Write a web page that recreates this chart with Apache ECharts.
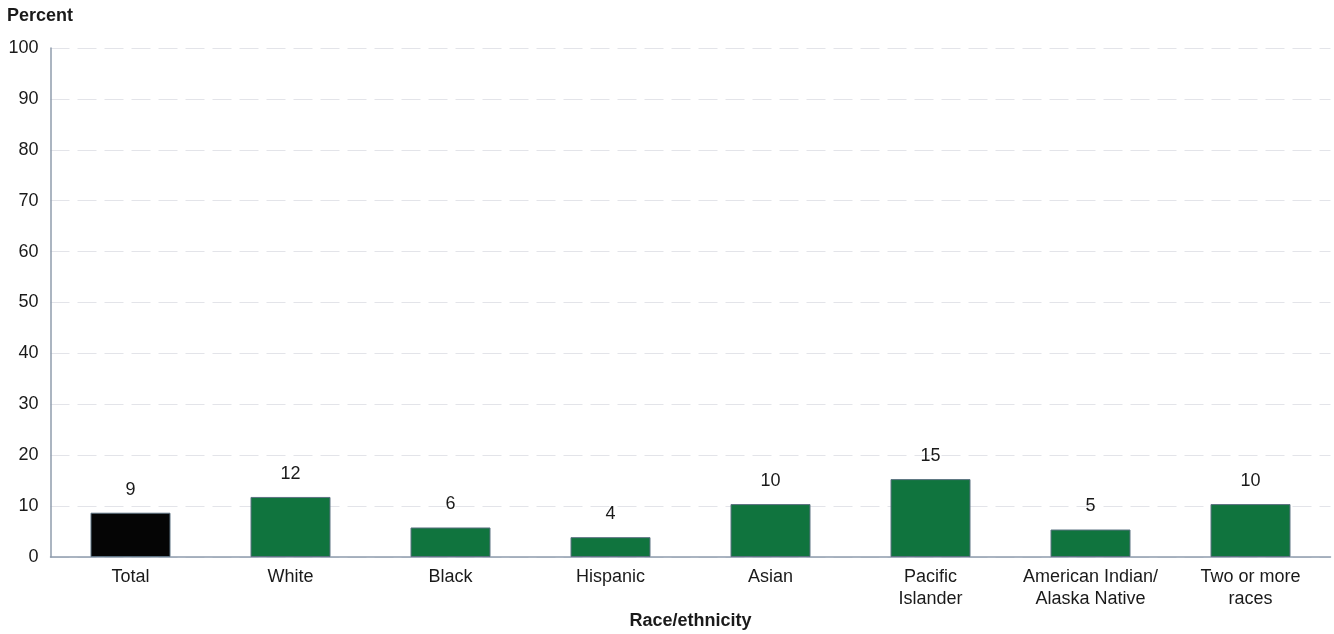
<!DOCTYPE html>
<html><head><meta charset="utf-8">
<script src="https://cdn.jsdelivr.net/npm/echarts@6/dist/echarts.min.js"></script>
<style>html,body{margin:0;padding:0;background:#fff}#c{width:1334px;height:634px}</style>
</head><body><div id="c"></div>
<script>
var categories = ['Total','White','Black','Hispanic','Asian','Pacific\nIslander','American Indian/\nAlaska Native','Two or more\nraces'];
var values = [8.7, 11.8, 5.8, 3.9, 10.4, 15.3, 5.4, 10.4];
var barColors = ['#050505','#10743e','#10743e','#10743e','#10743e','#10743e','#10743e','#10743e'];
var yTicks = [0,10,20,30,40,50,60,70,80,90,100];

var chart = echarts.init(document.getElementById('c'), null, {renderer:'canvas'});
var font = 'Arial, "Liberation Sans", sans-serif';
chart.setOption({
  animation:false,
  textStyle:{fontFamily:font},
  grid:{left:50.5,right:3.5,top:48,bottom:77,containLabel:false},
  graphic:[
    {type:'text',left:7,top:7,style:{text:'Percent',font:'bold 18px '+font,fill:'#1a1a1a'}},
    {type:'text',x:690.5,y:612,style:{text:'Race/ethnicity',font:'bold 18px '+font,fill:'#1a1a1a',textAlign:'center'}}
  ],
  xAxis:{type:'category',data:categories,
    axisLine:{lineStyle:{color:'#8f9cad',width:1.5}},
    axisTick:{show:false},
    axisLabel:{color:'#1a1a1a',fontSize:18,fontFamily:font,margin:9,lineHeight:22,interval:0}},
  yAxis:{type:'value',min:0,max:100,interval:10,
    axisLine:{show:true,lineStyle:{color:'#8f9cad',width:1.5}},
    axisTick:{show:false},
    axisLabel:{color:'#1a1a1a',fontSize:18,fontFamily:font,margin:12,
      formatter:function(v){return yTicks.indexOf(v)>=0?String(v):'';}},
    splitLine:{show:true,lineStyle:{color:'#e3e4e9',type:[19,8],width:1}}},
  series:[{type:'bar',barWidth:80,
    data:values.map(function(v,i){return {value:v,itemStyle:{color:barColors[i]}};}),
    itemStyle:{borderColor:'#5d7282',borderWidth:1},
    label:{show:true,position:'top',distance:14,color:'#1a1a1a',fontSize:18,fontFamily:font,
      formatter:function(p){return String(Math.round(p.value));}}
  }]
});
</script></body></html>
